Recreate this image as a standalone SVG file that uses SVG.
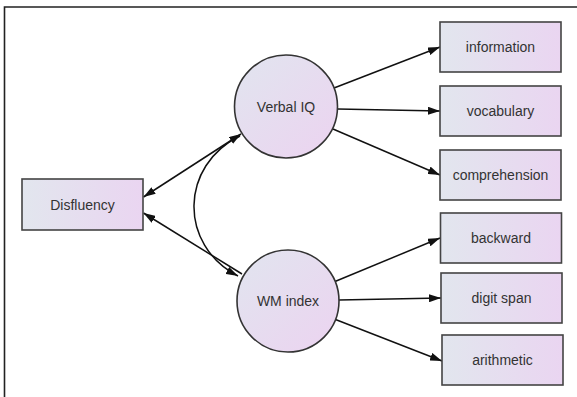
<svg xmlns="http://www.w3.org/2000/svg" width="577" height="397" viewBox="0 0 577 397">
<defs>
<linearGradient id="gBox" x1="0" y1="0" x2="1" y2="0">
<stop offset="0" stop-color="#e2e6ee"/>
<stop offset="1" stop-color="#ead5f1"/>
</linearGradient>
<linearGradient id="gCirc" x1="0" y1="0" x2="1" y2="1">
<stop offset="0" stop-color="#e1e5ef"/>
<stop offset="1" stop-color="#ecd3f0"/>
</linearGradient>
<marker id="ah" viewBox="0 0 12 8" refX="12" refY="4" markerWidth="12" markerHeight="8" markerUnits="userSpaceOnUse" orient="auto-start-reverse">
<path d="M0,0 L12,4 L0,8 Z" fill="#111"/>
</marker>
<style>
.box{fill:url(#gBox);stroke:#444;stroke-width:1.6}
.circ{fill:url(#gCirc);stroke:#333;stroke-width:1.6}
text{font-family:"Liberation Sans",Arial,sans-serif;font-size:14px;fill:#333;text-anchor:middle}
.c line,.c path{stroke:#111;stroke-width:1.5;fill:none}
</style>
</defs>
<rect width="577" height="397" fill="#fff"/>
<path d="M4.5,397 V7 H577" fill="none" stroke="#222" stroke-width="1.6"/>
<g class="c" id="connectors">
<line x1="334" y1="88" x2="440" y2="47" marker-end="url(#ah)"/>
<line x1="337.5" y1="109" x2="440" y2="111" marker-end="url(#ah)"/>
<line x1="333" y1="129" x2="440" y2="175" marker-end="url(#ah)"/>
<line x1="335" y1="281.5" x2="440" y2="238" marker-end="url(#ah)"/>
<line x1="339" y1="300" x2="441" y2="298" marker-end="url(#ah)"/>
<line x1="335.5" y1="319.5" x2="442" y2="361" marker-end="url(#ah)"/>
<line x1="143.5" y1="197" x2="241" y2="134" marker-start="url(#ah)" marker-end="url(#ah)"/>
<line x1="143.5" y1="213" x2="242" y2="274" marker-start="url(#ah)"/>
<path d="M240,136 C180,165 178,245 238,276" marker-end="url(#ah)"/>
</g>
<g id="disfluency"><rect class="box" x="22" y="179" width="121" height="51"/><text x="82.5" y="210">Disfluency</text></g>
<g id="verbal-iq"><circle class="circ" cx="286" cy="106.5" r="51.5"/><text x="286" y="111.5">Verbal IQ</text></g>
<g id="wm-index"><circle class="circ" cx="288" cy="301" r="51"/><text x="288" y="306">WM index</text></g>
<g id="information"><rect class="box" x="440" y="22" width="121" height="50"/><text x="500.5" y="52">information</text></g>
<g id="vocabulary"><rect class="box" x="440" y="86" width="121" height="50"/><text x="500.5" y="116">vocabulary</text></g>
<g id="comprehension"><rect class="box" x="440" y="150" width="121" height="50"/><text x="500.5" y="180">comprehension</text></g>
<g id="backward"><rect class="box" x="440.5" y="213" width="121" height="50"/><text x="501" y="243">backward</text></g>
<g id="digit-span"><rect class="box" x="441" y="273" width="121" height="50"/><text x="501.5" y="303">digit span</text></g>
<g id="arithmetic"><rect class="box" x="442" y="335" width="121" height="50"/><text x="502.5" y="365">arithmetic</text></g>
</svg>
